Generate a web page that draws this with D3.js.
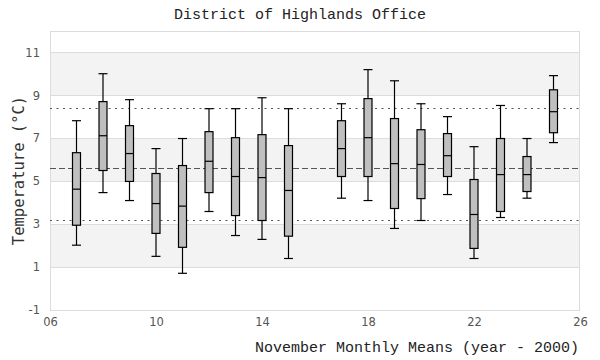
<!DOCTYPE html>
<html>
<head>
<meta charset="utf-8">
<script src="https://cdn.jsdelivr.net/npm/d3@7"></script>
<style>
html,body{margin:0;padding:0;background:#fff;}
svg{display:block;}
</style>
</head>
<body>
<script>
// Data
const years = [7, 8, 9, 10, 11, 12, 13, 14, 15, 17, 18, 19, 20, 21, 22, 23, 24, 25];
const whiskerLow  = [2.02, 4.47, 4.10, 1.50, 0.71, 3.59, 2.47, 2.29, 1.40, 4.21, 4.10, 2.80, 3.17, 4.38, 1.40, 3.31, 4.21, 6.80];
const q1          = [2.95, 5.50, 4.99, 2.57, 1.92, 4.47, 3.40, 3.17, 2.44, 5.22, 5.22, 3.73, 4.19, 5.22, 1.87, 3.59, 4.52, 7.26];
const medians     = [4.63, 7.12, 6.29, 3.96, 3.84, 5.93, 5.22, 5.17, 4.57, 6.52, 7.03, 5.82, 5.78, 6.19, 3.45, 5.31, 5.31, 8.24];
const q3          = [6.33, 8.71, 7.59, 5.36, 5.73, 7.31, 7.03, 7.17, 6.66, 7.82, 8.85, 7.92, 7.40, 7.22, 5.08, 6.99, 6.15, 9.26];
const whiskerHigh = [7.82, 10.01, 8.80, 6.52, 6.99, 8.38, 8.38, 8.89, 8.38, 8.61, 10.20, 9.68, 8.61, 8.01, 6.61, 8.53, 6.99, 9.92];
const overallMean = 5.6;
const upperRef = 8.4;
const lowerRef = 3.2;
const xTicks = [6, 10, 14, 18, 22, 26];
const xTickLabels = ["06", "10", "14", "18", "22", "26"];
const yTicks = [-1, 1, 3, 5, 7, 9, 11];
const yTickLabels = ["-1", "1", "3", "5", "7", "9", "11"];
const bandStarts = [9, 5, 1];
const titleText = "District of Highlands Office";
const xLabel = "November Monthly Means (year - 2000)";
const yLabel = "Temperature (°C)";

(function () {
const W = 600, H = 360;
const mLeft = 50, mRight = 580, mTop = 31, mBottom = 310;

const svg = d3.select("body").append("svg").attr("width", W).attr("height", H);

const x = d3.scaleLinear().domain([6, 26]).range([mLeft, mRight]);
const y = d3.scaleLinear().domain([-1, 12]).range([mBottom, mTop]);

// bands
svg.append("g").selectAll("rect").data(bandStarts).join("rect")
  .attr("x", mLeft).attr("width", mRight - mLeft)
  .attr("y", d => y(d + 2)).attr("height", d => y(d) - y(d + 2))
  .attr("fill", "#f3f3f3");

// gridlines
svg.append("g").selectAll("line").data(yTicks).join("line")
  .attr("x1", mLeft).attr("x2", mRight)
  .attr("y1", d => Math.round(y(d)) + 0.5).attr("y2", d => Math.round(y(d)) + 0.5)
  .attr("stroke", "#dcdcdc").attr("stroke-width", 1);

// plot border
svg.append("rect").attr("x", mLeft + 0.5).attr("y", mTop + 0.5)
  .attr("width", mRight - mLeft - 1).attr("height", mBottom - mTop)
  .attr("fill", "none").attr("stroke", "#dcdcdc");

// reference lines
const refs = [
  {v: upperRef, dash: "2,4.5"},
  {v: lowerRef, dash: "2,4.5"},
  {v: overallMean, dash: "6,3"}
];
svg.append("g").selectAll("line").data(refs).join("line")
  .attr("x1", mLeft).attr("x2", mRight)
  .attr("y1", d => Math.round(y(d.v)) + 0.5).attr("y2", d => Math.round(y(d.v)) + 0.5)
  .attr("stroke", "#555").attr("stroke-width", 1.2)
  .attr("stroke-dasharray", d => d.dash);

// boxes
const boxW = 8, capW = 9;
const data = years.map((yr, i) => ({yr, lo: whiskerLow[i], q1: q1[i], med: medians[i], q3: q3[i], hi: whiskerHigh[i]}));
const g = svg.append("g").selectAll("g").data(data).join("g");
g.append("line").attr("x1", d => x(d.yr)).attr("x2", d => x(d.yr))
  .attr("y1", d => y(d.hi)).attr("y2", d => y(d.lo))
  .attr("stroke", "#000").attr("stroke-width", 1.2);
g.append("line").attr("x1", d => x(d.yr) - capW / 2).attr("x2", d => x(d.yr) + capW / 2)
  .attr("y1", d => y(d.hi)).attr("y2", d => y(d.hi))
  .attr("stroke", "#000").attr("stroke-width", 1.2);
g.append("line").attr("x1", d => x(d.yr) - capW / 2).attr("x2", d => x(d.yr) + capW / 2)
  .attr("y1", d => y(d.lo)).attr("y2", d => y(d.lo))
  .attr("stroke", "#000").attr("stroke-width", 1.2);
g.append("rect").attr("x", d => x(d.yr) - boxW / 2).attr("width", boxW)
  .attr("y", d => y(d.q3)).attr("height", d => y(d.q1) - y(d.q3))
  .attr("fill", "#bfbfbf").attr("stroke", "#000").attr("stroke-width", 1.2);
g.append("line").attr("x1", d => x(d.yr) - boxW / 2).attr("x2", d => x(d.yr) + boxW / 2)
  .attr("y1", d => y(d.med)).attr("y2", d => y(d.med))
  .attr("stroke", "#000").attr("stroke-width", 1.2);

// axes tick labels
const yAxis = d3.axisLeft(y).tickValues(yTicks).tickSize(0).tickPadding(0)
  .tickFormat((d, i) => yTickLabels[i]);
const ya = svg.append("g").attr("transform", `translate(${mLeft - 10},0)`).call(yAxis);
ya.select(".domain").remove();
ya.selectAll("text").attr("font-family", "DejaVu Sans").attr("font-size", 11.5).attr("fill", "#555");

const xAxis = d3.axisBottom(x).tickValues(xTicks).tickSize(0).tickPadding(0)
  .tickFormat((d, i) => xTickLabels[i]);
const xa = svg.append("g").attr("transform", `translate(0,${mBottom + 8})`).call(xAxis);
xa.select(".domain").remove();
xa.selectAll("text").attr("font-family", "DejaVu Sans").attr("font-size", 11.5).attr("fill", "#555");

// title
svg.append("text").attr("x", 300).attr("y", 19).attr("text-anchor", "middle")
  .attr("font-family", "Liberation Mono").attr("font-size", 15).attr("fill", "#222")
  .text(titleText);

// x label
svg.append("text").attr("x", mRight - 1).attr("y", 352).attr("text-anchor", "end")
  .attr("font-family", "Liberation Mono").attr("font-size", 15).attr("fill", "#222")
  .text(xLabel);

// y label
svg.append("text").attr("transform", `translate(24,${(mTop + mBottom) / 2}) rotate(-90)`)
  .attr("text-anchor", "middle")
  .attr("font-family", "DejaVu Sans Mono").attr("font-size", 15.5).attr("fill", "#333")
  .text(yLabel);
})();
</script>
</body>
</html>
